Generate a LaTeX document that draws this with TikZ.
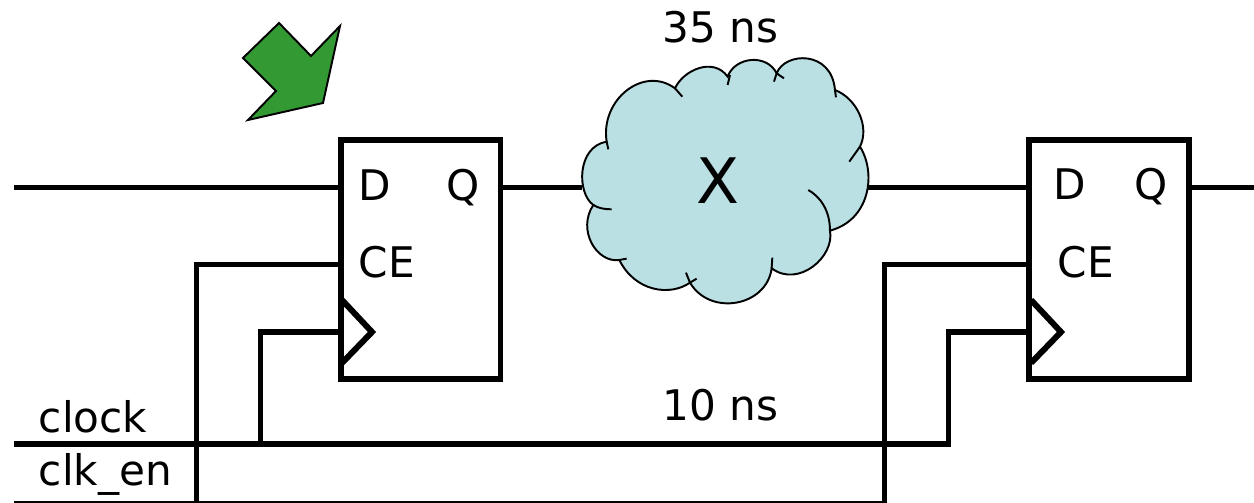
\documentclass[tikz,border=0pt]{standalone}
\usepackage{fontspec}
\setmainfont{DejaVu Sans}
\definecolor{cloudblue}{HTML}{BAE0E3}
\definecolor{markgreen}{HTML}{339933}
\tikzset{
    wire/.style={line width=3.4pt},
    flop/.style={draw, line width=3.4pt, minimum width=3.2cm, minimum height=4.78cm, outer sep=0pt},
    cloudline/.style={line width=1.1pt},
    lbl/.style={font=\fontsize{24}{28}\selectfont, inner sep=0pt, anchor=base west},
}
\begin{document}
\begin{tikzpicture}[x=0.02cm, y=-0.02cm]
    \useasboundingbox (0, 0) rectangle (1254, 503);

    % flip-flops
    \node[flop] (ffa) at (420.5, 259.5) {};
    \node[flop] (ffb) at (1109, 259.5) {};
    \draw[wire] (342, 300) -- (372, 332) -- (342, 363);
    \draw[wire] (1031, 300) -- (1061, 332) -- (1031, 363);

    % cloud
    \begin{scope}[shift={(560, 40)}, scale=0.3333]
        \draw[fill=cloudblue, cloudline] (140, 305)
            .. controls (120, 180) and (250, 75) .. (345, 145)
            .. controls (370, 90) and (460, 50) .. (503, 110)
            .. controls (525, 50) and (620, 40) .. (650, 100)
            .. controls (675, 35) and (815, 30) .. (825, 150)
            .. controls (890, 175) and (930, 260) .. (900, 320)
            .. controls (950, 400) and (930, 540) .. (810, 572)
            .. controls (825, 650) and (715, 745) .. (635, 685)
            .. controls (620, 800) and (450, 830) .. (390, 728)
            .. controls (330, 770) and (225, 755) .. (178, 660)
            .. controls (110, 670) and (50, 570) .. (100, 495)
            .. controls (50, 460) and (50, 320) .. (140, 305) -- cycle;
        \draw[cloudline] (140, 305) -- (145, 328);
        \draw[cloudline] (345, 145) -- (367, 170);
        \draw[cloudline] (510, 105) -- (503, 135);
        \draw[cloudline] (672, 115) -- (650, 100) -- (642, 125);
        \draw[cloudline] (825, 150) -- (828, 172);
        \draw[cloudline] (900, 320) -- (868, 365);
        \draw[cloudline] (810, 572) .. controls (810, 510) and (780, 470) .. (745, 450);
        \draw[cloudline] (635, 685) -- (637, 653);
        \draw[cloudline] (410, 716) -- (390, 728) -- (378, 698);
        \draw[cloudline] (178, 660) -- (200, 656);
        \draw[cloudline] (100, 495) .. controls (115, 505) and (135, 508) .. (155, 508);
    \end{scope}
    \coordinate (cloudin) at (582, 187.5);
    \coordinate (cloudout) at (868, 187.5);

    % green pointer
    \draw[fill=markgreen, cloudline] (279, 23) -- (311, 56) -- (340, 26) -- (323, 103)
        -- (248, 120) -- (276, 91) -- (243, 58) -- cycle;

    % free ends
    \coordinate (din) at (14, 187.5);
    \coordinate (qout) at (1254, 187.5);
    \coordinate (clockin) at (14, 444);
    \coordinate (enin) at (14, 504);
    \coordinate (enbota) at (196.5, 504);
    \coordinate (enbotb) at (884.5, 504);
    \coordinate (ad) at (ffa.west |- din);
    \coordinate (aq) at (ffa.east |- din);
    \coordinate (bd) at (ffb.west |- din);
    \coordinate (bq) at (ffb.east |- din);
    \coordinate (ace) at (340.5, 264.5);
    \coordinate (bce) at (1029, 264.5);
    \coordinate (ack) at (340.5, 332);
    \coordinate (bck) at (1029, 332);
    \coordinate (tapa) at (260.5, 444);

    % data path
    \draw[wire] (din) -- (ad);
    \draw[wire] (aq) -- (cloudin);
    \draw[wire] (cloudout) -- (bd);
    \draw[wire] (bq) -- (qout);

    % clock and enable
    \draw[wire] (clockin) -- (948.5, 444) -- (948.5, 332) -- (bck);
    \draw[wire] (tapa) -- (260.5, 332) -- (ack);
    \draw[wire] (enbota) -- (196.5, 264.5) -- (ace);
    \draw[wire] (enbotb) -- (884.5, 264.5) -- (bce);
    \draw[wire] (enin) -- (enbotb);

    % labels
    \node[lbl] (lbla) at (662, 43) {35 ns};
    \node[lbl] (lblb) at (662, 420) {10 ns};
    \node[lbl, font=\fontsize{35.7}{40}\selectfont, anchor=base] (xlbl) at (717.5, 204) {X};
    \node[lbl] (da) at (358, 201) {D};
    \node[lbl] (qa) at (446.6, 201) {Q};
    \node[lbl] (cea) at (358.6, 277) {CE};
    \node[lbl] (db) at (1053, 200) {D};
    \node[lbl] (qb) at (1134.6, 200) {Q};
    \node[lbl] (ceb) at (1057.6, 277) {CE};
    \node[lbl] (clocklbl) at (38.5, 432) {clock};
    \node[lbl] (enlbl) at (38.5, 485) {clk\_en};
\end{tikzpicture}
\end{document}
